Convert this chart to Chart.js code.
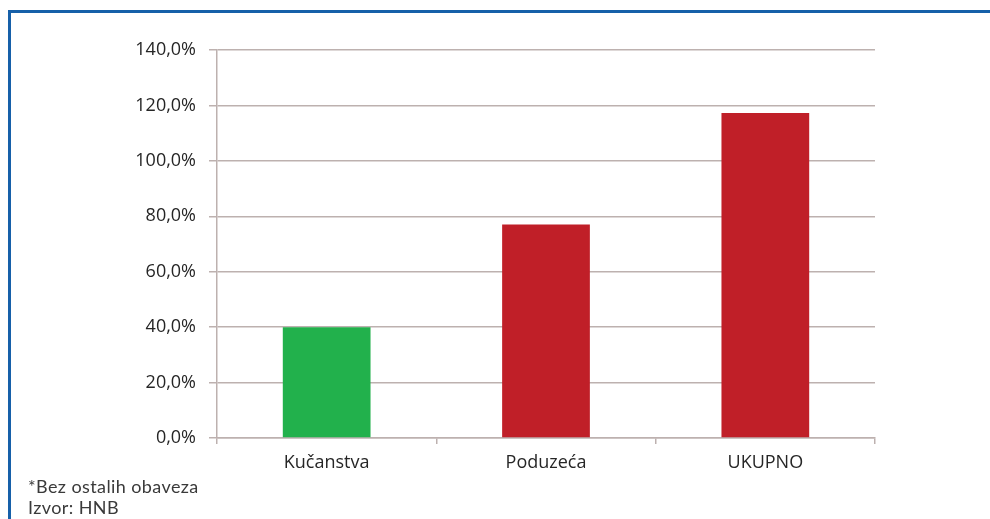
<!DOCTYPE html>
<html lang="hr">
  <head>
    <meta charset="utf-8" />
    <title>Dug</title>
    <style>
      * {
        margin: 0;
        padding: 0;
      }
      body {
        width: 990px;
        height: 519px;
        background: #fff;
        overflow: hidden;
        position: relative;
      }
      .frame {
        position: absolute;
        left: 8px;
        top: 10px;
        width: 990px;
        height: 520px;
        border-top: 3px solid #1660a9;
        border-left: 3px solid #1660a9;
      }
      .chartBox {
        position: absolute;
        left: 0;
        top: 0;
        width: 990px;
        height: 519px;
      }
      .note {
        position: absolute;
        left: 28px;
        font-family: "Lato", sans-serif;
        font-size: 18px;
        letter-spacing: 0.4px;
        color: #3a3a3a;
        line-height: 20px;
      }
    </style>
  </head>
  <body>
    <div class="frame"></div>
    <div class="chartBox">
      <canvas id="myChart" width="990" height="519"></canvas>
    </div>
    <div class="note" style="top: 476px">*Bez ostalih obaveza</div>
    <div class="note" style="top: 497px">Izvor: HNB</div>

    <script src="https://cdn.jsdelivr.net/npm/chart.js"></script>

    <script>
      const categories = ["Kučanstva", "Poduzeća", "UKUPNO"];
      const values = [40.0, 77.0, 117.3];
      const barColors = ["#22b14c", "#c01f28", "#c01f28"];
      const gridColor = "#bdb1af";

      const data = {
        labels: categories,
        datasets: [
          {
            data: values,
            backgroundColor: barColors,
            borderWidth: 0,
            barPercentage: 0.8,
            categoryPercentage: 0.5,
          },
        ],
      };

      const config = {
        type: "bar",
        data: data,
        options: {
          responsive: false,
          animation: false,
          layout: {
            padding: { left: 0, top: 50, right: 115, bottom: 0 },
          },
          plugins: {
            legend: { display: false },
            tooltip: { enabled: false },
          },
          scales: {
            x: {
              afterFit(scale) {
                scale.height = 81;
              },
              grid: {
                display: true,
                drawOnChartArea: false,
                tickLength: 6,
                color: gridColor,
                lineWidth: 1.5,
              },
              border: { color: gridColor, width: 1.5 },
              ticks: {
                padding: 8,
                color: "#262626",
                font: { family: "Open Sans", size: 18 },
              },
            },
            y: {
              min: 0,
              max: 140,
              afterFit(scale) {
                scale.width = 217;
              },
              grid: {
                color: gridColor,
                lineWidth: 1.5,
                tickLength: 8,
              },
              border: { color: gridColor, width: 1.5 },
              ticks: {
                stepSize: 20,
                padding: 13,
                color: "#262626",
                font: { family: "Open Sans", size: 18 },
                callback: (v) => v.toFixed(1).replace(".", ",") + "%",
              },
            },
          },
        },
      };

      const myChart = new Chart(document.getElementById("myChart"), config);
    </script>
  </body>
</html>
